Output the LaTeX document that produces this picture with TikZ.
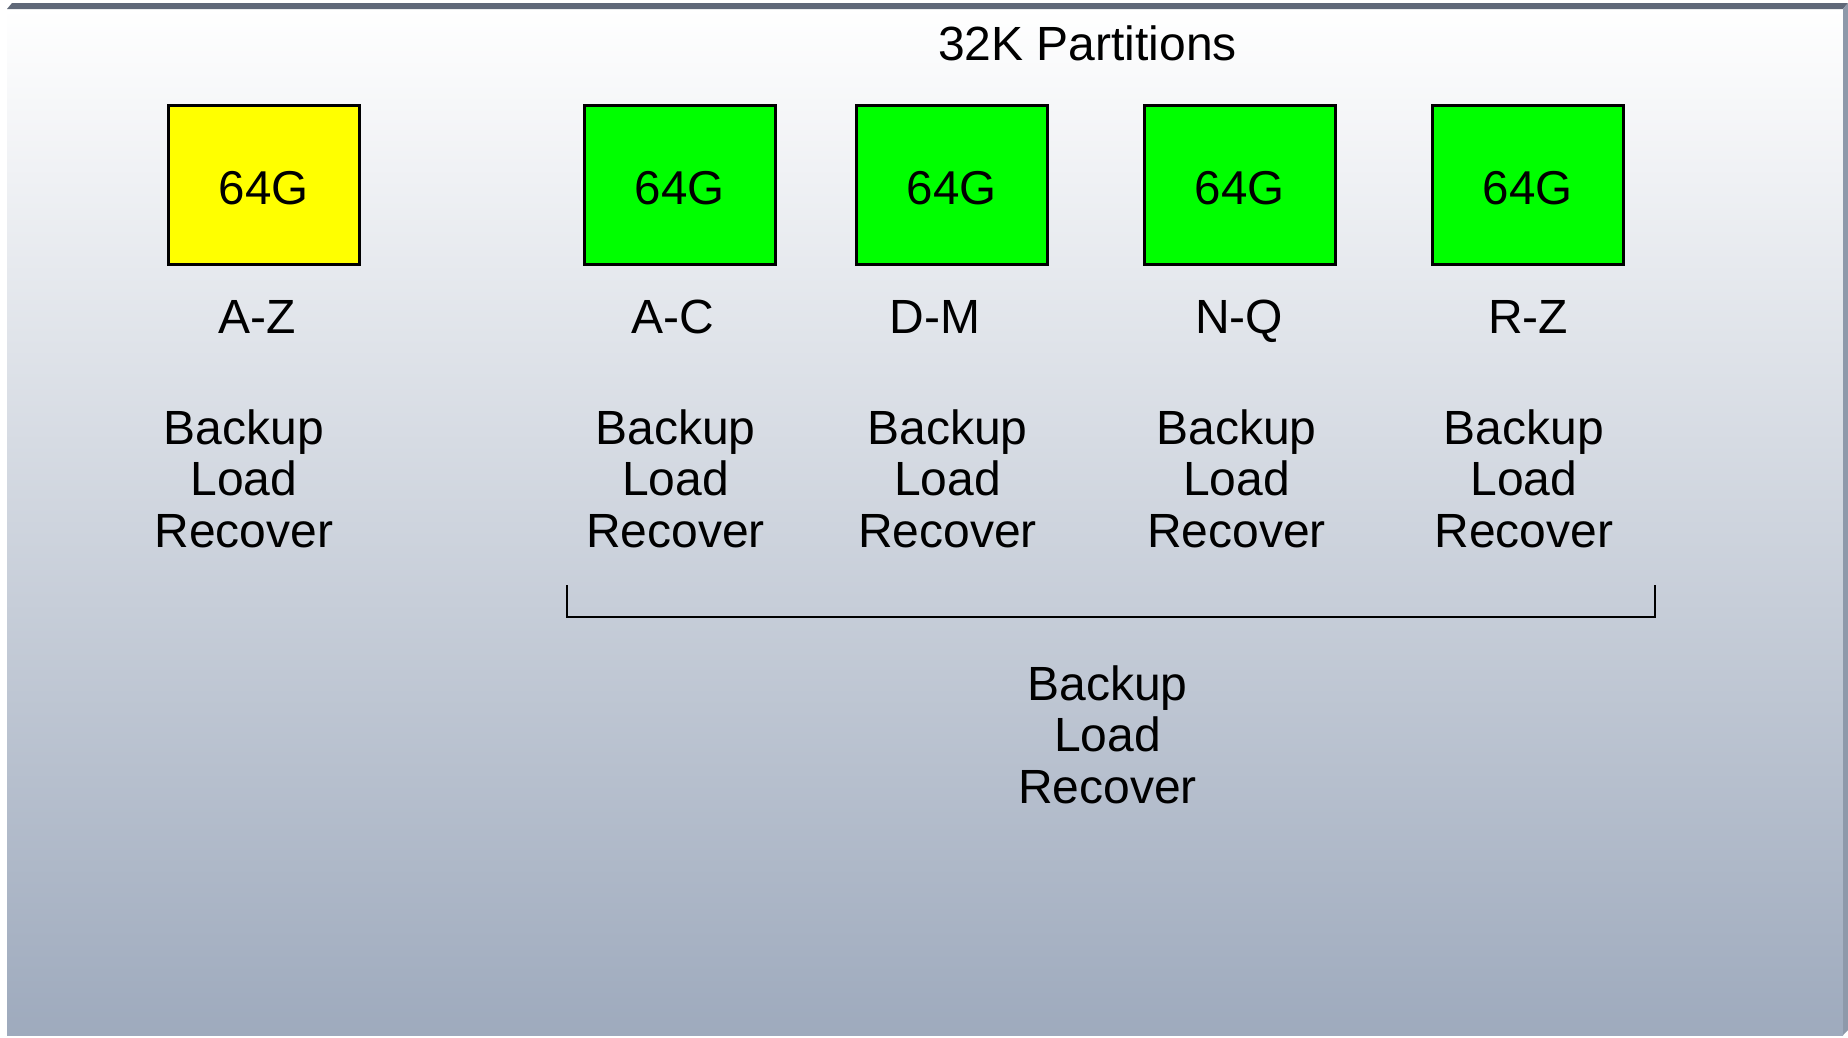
\documentclass[tikz,border=0pt]{standalone}
\usepackage{fontspec}
\setmainfont{Liberation Sans}
\definecolor{panelbottom}{HTML}{9EAABD}
\definecolor{bandtop}{HTML}{5F6878}
\definecolor{bandside}{HTML}{8E99AA}
\definecolor{partyellow}{HTML}{FFFF00}
\definecolor{partgreen}{HTML}{00FF00}
\tikzset{
  bigtext/.style={font=\fontsize{48}{51.5}\selectfont, inner sep=0pt},
  partbox/.style={draw=black, line width=3pt, minimum width=191pt,
    minimum height=159pt, inner sep=0pt, text height=39.6pt, text depth=0pt,
    font=\fontsize{47.5}{51.5}\selectfont},
  rangelabel/.style={bigtext, anchor=base},
  % anchored at the baseline of the last line
  tasklist/.style={bigtext, align=center, anchor=base},
  bracketline/.style={draw=black, line width=2.5pt}
}
\begin{document}
\begin{tikzpicture}[x=1pt, y=-1pt]
  % page and framed panel
  \fill[white] (0,0) rectangle (1848,1037);
  \useasboundingbox (0,0) rectangle (1848,1037);
  \fill[top color=white, bottom color=panelbottom] (7,8) rectangle (1843,1035);
  \fill[bandtop] (7,9) -- (12,3) -- (1848,3) -- (1843,9) -- cycle;
  \fill[bandside] (1843,9) -- (1848,3) -- (1848,1030) -- (1843,1035) -- cycle;

  % title
  \node[rangelabel] (title) at (1087.5,60) {32K Partitions};

  % partitions
  \node[partbox, fill=partyellow] (whole) at (263.5,185) {64G};
  \node[partbox, fill=partgreen]  (pac)   at (679.5,185) {64G};
  \node[partbox, fill=partgreen]  (pdm)   at (951.5,185) {64G};
  \node[partbox, fill=partgreen]  (pnq)   at (1239.5,185) {64G};
  \node[partbox, fill=partgreen]  (prz)   at (1527.5,185) {64G};

  % key ranges
  \node[rangelabel] (lwhole) at (257.5,333) {A-Z};
  \node[rangelabel] (lac)    at (673,333)   {A-C};
  \node[rangelabel] (ldm)    at (935,333)   {D-M};
  \node[rangelabel] (lnq)    at (1239,333)  {N-Q};
  \node[rangelabel] (lrz)    at (1528,333)  {R-Z};

  % per-partition operations
  \node[tasklist] (twhole) at (244,547)    {Backup\\Load\\Recover};
  \node[tasklist] (tac)    at (675.5,547)  {Backup\\Load\\Recover};
  \node[tasklist] (tdm)    at (947.5,547)  {Backup\\Load\\Recover};
  \node[tasklist] (tnq)    at (1236.5,547) {Backup\\Load\\Recover};
  \node[tasklist] (trz)    at (1524,547)   {Backup\\Load\\Recover};

  % bracket grouping the four partitions
  \coordinate (brL) at (567,585);
  \coordinate (brR) at (1655,585);
  \coordinate (brBase) at (1100,617);
  \draw[bracketline] (brL) -- (brL |- brBase) -- (brR |- brBase) -- (brR);

  % operations on the whole group
  \node[tasklist] (tall) at (1107.5,803) {Backup\\Load\\Recover};
\end{tikzpicture}
\end{document}
